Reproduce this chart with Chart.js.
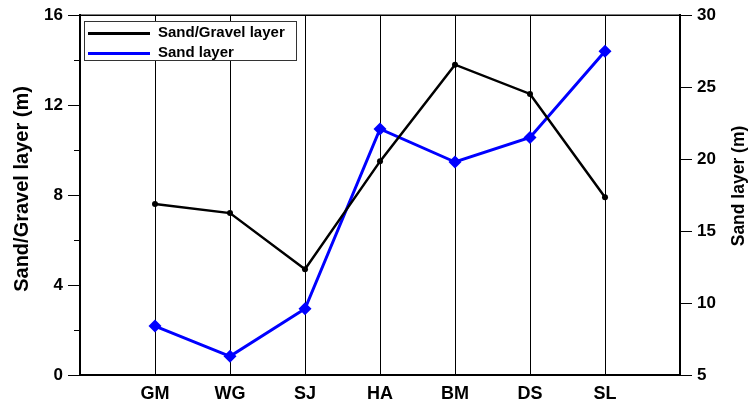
<!DOCTYPE html>
<html>
<head>
<meta charset="utf-8">
<script src="https://cdn.jsdelivr.net/npm/chart.js@4.4.1/dist/chart.umd.min.js"></script>
<style>
  html, body { margin:0; padding:0; background:#fff; }
  #wrap { position:relative; width:752px; height:404px; }
  #legend {
    position:absolute; left:84px; top:21px; width:211px; height:38px;
    border:1px solid #333; background:#fff;
    font:bold 15px "Liberation Sans", Arial, sans-serif; color:#000;
  }
  .item { position:absolute; left:3px; height:20px; line-height:20px; white-space:nowrap; }
  .item .ln { display:inline-block; width:62px; height:3px; vertical-align:middle; margin-right:8px; }
</style>
</head>
<body>
<div id="wrap">
  <canvas id="chart" width="752" height="404"></canvas>
  <div id="legend">
    <div class="item" style="top:0px"><span class="ln" style="background:#000"></span>Sand/Gravel layer</div>
    <div class="item" style="top:20px"><span class="ln" style="background:#0000ff"></span>Sand layer</div>
  </div>
</div>
<script>
const sites = ['GM', 'WG', 'SJ', 'HA', 'BM', 'DS', 'SL'];
const sandGravel = [7.6, 7.2, 4.7, 9.5, 13.8, 12.5, 7.9];
const sand = [8.4, 6.3, 9.6, 22.1, 19.8, 21.5, 27.5];
const leftMinor = [2, 6, 10, 14];
const leftTitle = 'Sand/Gravel layer (m)';
const rightTitle = 'Sand layer (m)';

// empty slot at each end, like the original plot
const labels = ['', ...sites, ''];
const pad = arr => [null, ...arr, null];

const FONT = '"Liberation Sans", Arial, sans-serif';

// top frame line, minor ticks on the left axis, and both axis titles
// (right title reads bottom-to-top, which chart.js can't do by itself)
const framePlugin = {
  id: 'frame',
  afterDraw(chart) {
    const { ctx, chartArea: a, scales } = chart;
    ctx.save();
    ctx.strokeStyle = '#000';
    ctx.lineWidth = 1.5;
    ctx.beginPath();
    ctx.moveTo(a.left, a.top);
    ctx.lineTo(a.right, a.top);
    ctx.stroke();
    ctx.lineWidth = 1;
    leftMinor.forEach(v => {
      const y = Math.round(scales.y.getPixelForValue(v)) + 0.5;
      ctx.beginPath();
      ctx.moveTo(a.left - 6, y);
      ctx.lineTo(a.left, y);
      ctx.stroke();
    });

    ctx.fillStyle = '#000';
    ctx.textAlign = 'center';
    ctx.textBaseline = 'middle';
    ctx.font = `bold 20px ${FONT}`;
    ctx.save();
    ctx.translate(22, 189);
    ctx.rotate(-Math.PI / 2);
    ctx.fillText(leftTitle, 0, 0);
    ctx.restore();

    ctx.font = `bold 17.5px ${FONT}`;
    ctx.translate(739, 186);
    ctx.rotate(-Math.PI / 2);
    ctx.fillText(rightTitle, 0, 0);
    ctx.restore();
  }
};

new Chart(document.getElementById('chart'), {
  type: 'line',
  data: {
    labels,
    datasets: [
      { label: 'Sand/Gravel layer', data: pad(sandGravel), yAxisID: 'y',
        borderColor: '#000', backgroundColor: '#000', borderWidth: 2.5,
        pointStyle: 'circle', pointRadius: 3, pointBorderWidth: 0, tension: 0 },
      { label: 'Sand layer', data: pad(sand), yAxisID: 'y1',
        borderColor: '#0000ff', backgroundColor: '#0000ff', borderWidth: 3,
        pointStyle: 'rectRot', pointRadius: 6.5, pointBorderWidth: 0, tension: 0 }
    ]
  },
  options: {
    responsive: false,
    animation: false,
    layout: { padding: { top: 15, left: 0, right: 0, bottom: 0 } },
    plugins: { legend: { display: false }, tooltip: { enabled: false } },
    scales: {
      x: {
        offset: false,
        grid: { color: '#000', lineWidth: 1, drawTicks: false },
        border: { color: '#000', width: 2 },
        ticks: { color: '#000', font: { family: FONT, size: 18, weight: 'bold' }, padding: 8,
          autoSkip: false, maxRotation: 0 },
        afterFit(s) { s.height = 29; }
      },
      y: {
        position: 'left', min: 0, max: 16,
        ticks: { stepSize: 4, color: '#000', font: { family: FONT, size: 17, weight: 'bold' }, padding: 5 },
        grid: { drawOnChartArea: false, color: '#000', tickLength: 12, lineWidth: 1 },
        border: { color: '#000', width: 2 },
        afterFit(s) { s.width = 80; }
      },
      y1: {
        position: 'right', min: 5, max: 30,
        ticks: { stepSize: 5, color: '#000', font: { family: FONT, size: 17, weight: 'bold' }, padding: 5 },
        grid: { drawOnChartArea: false, color: '#000', tickLength: 12, lineWidth: 1 },
        border: { color: '#000', width: 2 },
        afterFit(s) { s.width = 72; }
      }
    }
  },
  plugins: [framePlugin]
});
</script>
</body>
</html>
